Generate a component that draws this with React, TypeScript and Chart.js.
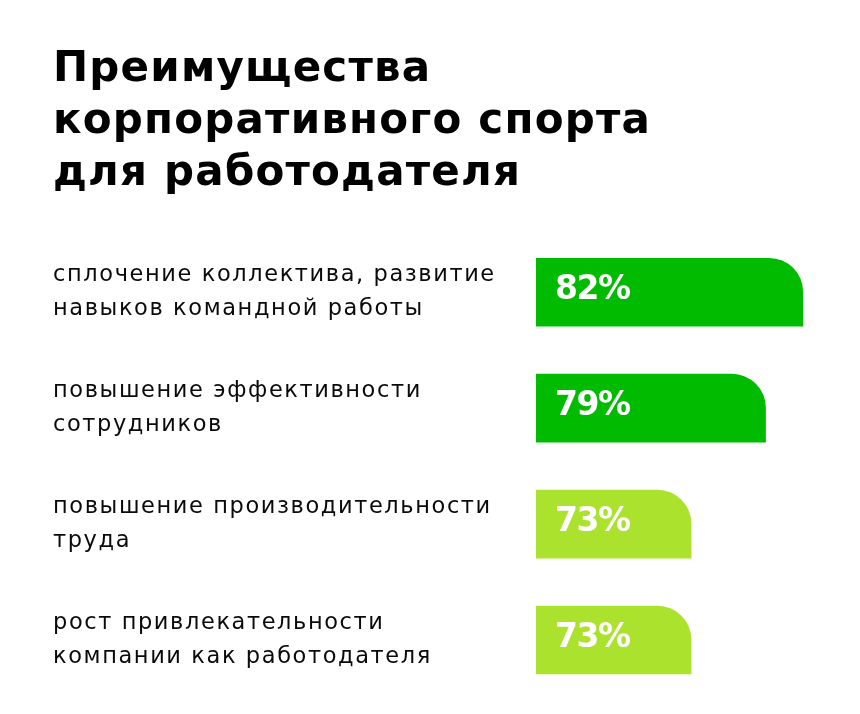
import React, { useEffect, useRef } from "react";
import { Chart, registerables } from "chart.js";

Chart.register(...registerables);

const titleLines = ["Преимущества", "корпоративного спорта", "для работодателя"];
const categories: string[][] = [
  ["сплочение коллектива, развитие", "навыков командной работы"],
  ["повышение эффективности", "сотрудников"],
  ["повышение производительности", "труда"],
  ["рост привлекательности", "компании как работодателя"],
];
const values = [82, 79, 73, 73];
const barColors = ["#00bb00", "#00bb00", "#abe22e", "#abe22e"];

const FONT = "'DejaVu Sans', sans-serif";

function withSpacing(obj: any, method: string, spacing: string) {
  if (!obj || obj["__spaced_" + method]) return;
  const orig = obj[method];
  obj[method] = function (...args: any[]) {
    const ctx = this.ctx;
    const prev = ctx.letterSpacing;
    ctx.letterSpacing = spacing;
    try {
      return orig.apply(this, args);
    } finally {
      ctx.letterSpacing = prev ?? "0px";
    }
  };
  obj["__spaced_" + method] = true;
}

const letterSpacingPlugin = {
  id: "letterSpacingPlugin",
  beforeDraw(chart: any) {
    withSpacing(chart.titleBlock, "draw", "1.2px");
    withSpacing(chart.scales.y, "drawLabels", "1.6px");
  },
};

const valueLabels = {
  id: "valueLabels",
  afterDraw(chart: any) {
    const ctx = chart.ctx;
    const meta = chart.getDatasetMeta(0);
    const left = chart.chartArea.left;
    ctx.save();
    ctx.fillStyle = "#ffffff";
    ctx.font = `bold 33px ${FONT}`;
    ctx.letterSpacing = "-1.5px";
    ctx.textAlign = "left";
    ctx.textBaseline = "middle";
    values.forEach((v, i) => {
      const bar = meta.data[i];
      const p = bar.getProps(["base", "y"], true);
      const base = Math.max(p.base, left);
      ctx.fillText(v + "%", base + 19, p.y - 2);
    });
    ctx.restore();
  },
};

export default function App() {
  const ref = useRef<HTMLCanvasElement>(null);
  useEffect(() => {
    if (!ref.current) return;
    const chart = new Chart(ref.current, {
      type: "bar",
      data: {
        labels: categories,
        datasets: [
          {
            data: values,
            backgroundColor: barColors,
            barThickness: 68,
            borderRadius: { topLeft: 0, bottomLeft: 0, topRight: 37, bottomRight: 0 },
            borderSkipped: false,
          },
        ],
      },
      options: {
        indexAxis: "y",
        animation: false,
        responsive: false,
        maintainAspectRatio: false,
        layout: { padding: { left: 53, right: 20, top: 0, bottom: 16 } },
        plugins: {
          legend: { display: false },
          tooltip: { enabled: false },
          title: {
            display: true,
            text: titleLines,
            align: "start",
            color: "#000000",
            font: { family: FONT, size: 42, weight: "bold", lineHeight: 1.24 },
            padding: { top: 44, bottom: 34 },
          },
        },
        scales: {
          x: { display: false, min: 60.5, max: 85 },
          y: {
            grid: { display: false, drawTicks: false },
            border: { display: false },
            ticks: {
              crossAlign: "far",
              color: "#0a0a0a",
              padding: 0,
              font: { family: FONT, size: 22.5, weight: "normal", lineHeight: 1.5 },
            },
            afterFit(scale: any) {
              scale.width = 536 - 53;
              scale.paddingTop = 0;
              scale.paddingBottom = 0;
            },
          },
        },
      },
      plugins: [letterSpacingPlugin, valueLabels],
    });
    return () => chart.destroy();
  }, []);
  return (
    <div style={{ position: "absolute", left: 0, top: 0, width: 860, height: 714, background: "#fff" }}>
      <canvas ref={ref} width={860} height={714} style={{ display: "block", width: 860, height: 714 }} />
    </div>
  );
}
